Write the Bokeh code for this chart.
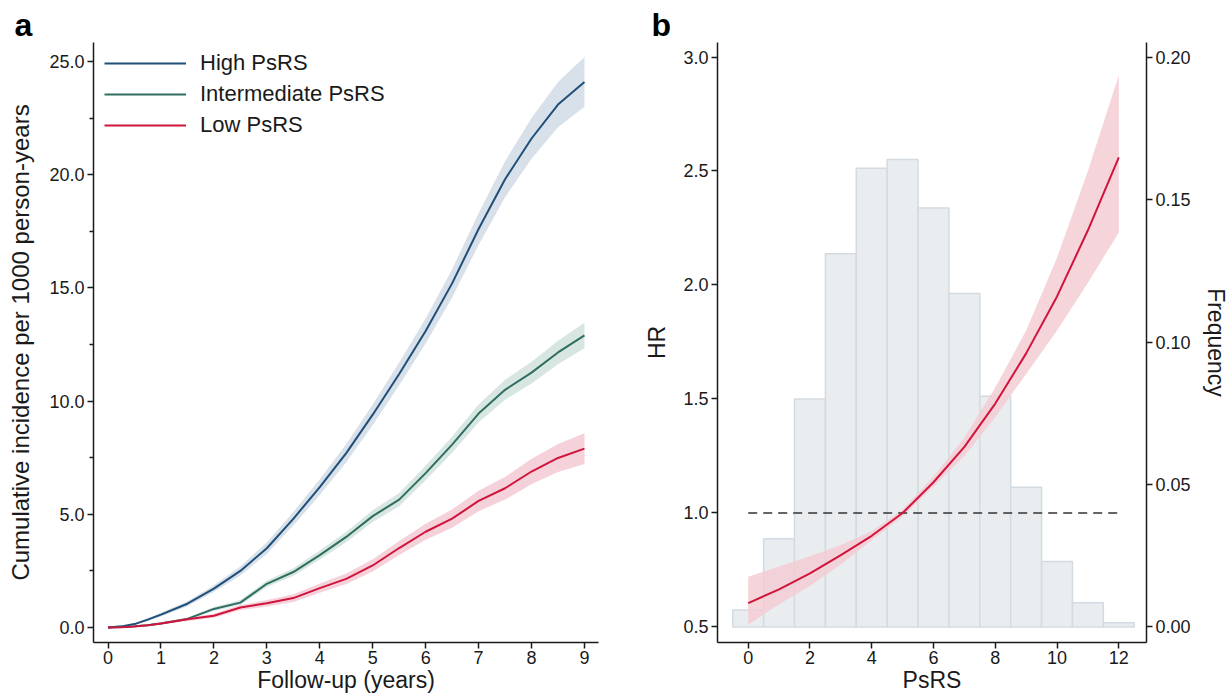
from bokeh.plotting import figure
from bokeh.layouts import row
from bokeh.models import Range1d, LinearAxis, FixedTicker, NumeralTickFormatter
from bokeh.embed import file_html
from bokeh.resources import INLINE

FONT = "Liberation Sans"

# ---------------- Panel a data ----------------
years = [0, 0.25, 0.5, 0.75, 1, 1.5, 2, 2.5, 3, 3.5, 4, 4.5, 5, 5.5, 6, 6.5, 7, 7.5, 8, 8.5, 9]
high = [0, 0.05, 0.15, 0.35, 0.57, 1.05, 1.72, 2.5, 3.5, 4.8, 6.2, 7.7, 9.4, 11.2, 13.1, 15.2, 17.6, 19.8, 21.6, 23.1, 24.1]
high_lo = [0, 0.03, 0.11, 0.29, 0.49, 0.94, 1.57, 2.3, 3.25, 4.5, 5.85, 7.3, 8.95, 10.7, 12.55, 14.58, 16.9, 19.0, 20.7, 22.1, 23.0]
high_hi = [0, 0.07, 0.19, 0.41, 0.65, 1.16, 1.87, 2.7, 3.75, 5.1, 6.55, 8.1, 9.85, 11.7, 13.65, 15.82, 18.3, 20.6, 22.5, 24.1, 25.2]
inter = [0, 0.02, 0.05, 0.1, 0.18, 0.38, 0.82, 1.1, 1.93, 2.45, 3.2, 4.0, 4.92, 5.65, 6.82, 8.08, 9.45, 10.5, 11.26, 12.15, 12.9]
inter_lo = [0, 0.01, 0.03, 0.07, 0.14, 0.32, 0.73, 0.99, 1.79, 2.28, 3.0, 3.77, 4.66, 5.36, 6.5, 7.72, 9.05, 10.06, 10.78, 11.63, 12.34]
inter_hi = [0, 0.03, 0.07, 0.13, 0.22, 0.44, 0.91, 1.21, 2.07, 2.62, 3.4, 4.23, 5.18, 5.94, 7.14, 8.44, 9.85, 10.94, 11.74, 12.67, 13.46]
low = [0, 0.01, 0.04, 0.1, 0.18, 0.36, 0.52, 0.88, 1.07, 1.3, 1.74, 2.15, 2.74, 3.51, 4.23, 4.81, 5.59, 6.15, 6.89, 7.49, 7.9]
low_lo = [0, 0.0, 0.02, 0.07, 0.13, 0.29, 0.43, 0.77, 0.93, 1.13, 1.54, 1.92, 2.47, 3.2, 3.88, 4.41, 5.14, 5.65, 6.33, 6.87, 7.22]
low_hi = [0, 0.02, 0.06, 0.13, 0.23, 0.43, 0.61, 0.99, 1.21, 1.47, 1.94, 2.38, 3.01, 3.82, 4.58, 5.21, 6.04, 6.65, 7.45, 8.11, 8.58]
series_names = ["High PsRS", "Intermediate PsRS", "Low PsRS"]
a_xticks = [0, 1, 2, 3, 4, 5, 6, 7, 8, 9]
a_yticks = [0, 5, 10, 15, 20, 25]
a_yminor = [2.5, 7.5, 12.5, 17.5, 22.5]

# ---------------- Panel b data ----------------
psrs_bins = [0, 1, 2, 3, 4, 5, 6, 7, 8, 9, 10, 11, 12]
psrs_freq = [0.006, 0.031, 0.080, 0.131, 0.161, 0.164, 0.147, 0.117, 0.081, 0.049, 0.023, 0.0085, 0.0015]
psrs_x = [0, 1, 2, 3, 4, 5, 6, 7, 8, 9, 10, 11, 12]
hr = [0.605, 0.665, 0.735, 0.815, 0.90, 1.0, 1.135, 1.29, 1.48, 1.70, 1.95, 2.24, 2.56]
hr_lo = [0.51, 0.60, 0.68, 0.775, 0.88, 0.985, 1.115, 1.25, 1.42, 1.61, 1.80, 2.01, 2.23]
hr_hi = [0.72, 0.765, 0.81, 0.86, 0.92, 1.015, 1.16, 1.33, 1.55, 1.80, 2.12, 2.50, 2.92]
ref_x = [0, 12]
ref_y = [1.0, 1.0]
b_xticks = [0, 2, 4, 6, 8, 10, 12]
b_yticks = [0.5, 1.0, 1.5, 2.0, 2.5, 3.0]
b_fticks = [0.0, 0.05, 0.10, 0.15, 0.20]

BLUE, GREEN, RED = "#1f4e79", "#2e6e62", "#d0143c"
BLUE_BAND, GREEN_BAND, RED_BAND = "#d6dee8", "#d6e5df", "#f4d0d8"
AX = "#1a1a1a"


def style_axis(ax, size="18px"):
    ax.axis_line_color = AX
    ax.axis_line_width = 1.5
    ax.major_tick_line_color = AX
    ax.major_tick_line_width = 1.5
    ax.major_tick_out = 6
    ax.major_tick_in = 0
    ax.minor_tick_line_color = None
    ax.major_label_text_font = FONT
    ax.major_label_text_font_size = size
    ax.major_label_text_color = AX
    ax.major_label_standoff = 3
    ax.axis_label_text_font = FONT
    ax.axis_label_text_font_size = "23px"
    ax.axis_label_text_font_style = "normal"
    ax.axis_label_text_color = AX


def style_title(p, txt, offset):
    p.title.text = txt
    p.title.align = "left"
    p.title.offset = offset
    p.title.standoff = 0
    p.title.text_font = FONT
    p.title.text_font_size = "32px"
    p.title.text_font_style = "bold"
    p.title.text_color = "#000000"


# ---------------- Panel a ----------------
p1 = figure(width=640, height=697, output_backend="svg", toolbar_location=None,
            x_range=Range1d(-0.2739, 9.265), y_range=Range1d(-0.6625, 25.84),
            min_border_left=93, min_border_right=42, min_border_top=42, min_border_bottom=55)
p1.xgrid.visible = False
p1.ygrid.visible = False
p1.outline_line_color = None

p1.varea(x=years, y1=high_lo, y2=high_hi, fill_color=BLUE_BAND, fill_alpha=0.95)
p1.varea(x=years, y1=inter_lo, y2=inter_hi, fill_color=GREEN_BAND, fill_alpha=0.95)
p1.varea(x=years, y1=low_lo, y2=low_hi, fill_color=RED_BAND, fill_alpha=0.95)
p1.line(years, high, line_color=BLUE, line_width=2, legend_label=series_names[0])
p1.line(years, inter, line_color=GREEN, line_width=2, legend_label=series_names[1])
p1.line(years, low, line_color=RED, line_width=2, legend_label=series_names[2])

style_axis(p1.xaxis[0])
style_axis(p1.yaxis[0])
p1.xaxis[0].ticker = FixedTicker(ticks=a_xticks)
p1.xaxis[0].major_label_standoff = 2
p1.xaxis[0].axis_label = "Follow-up (years)"
p1.xaxis[0].axis_label_standoff = 0
p1.yaxis[0].ticker = FixedTicker(ticks=a_yticks, minor_ticks=a_yminor)
p1.yaxis[0].minor_tick_line_color = AX
p1.yaxis[0].minor_tick_line_width = 1.5
p1.yaxis[0].minor_tick_out = 4
p1.yaxis[0].minor_tick_in = 0
p1.yaxis[0].formatter = NumeralTickFormatter(format="0.0")
p1.yaxis[0].axis_label = "Cumulative incidence per 1000 person-years"
p1.yaxis[0].axis_label_text_font_size = "24px"
p1.yaxis[0].axis_label_standoff = 12

lg = p1.legend[0]
lg.location = (11, 504)
lg.border_line_color = None
lg.background_fill_alpha = 0
lg.padding = 8
lg.margin = 0
lg.spacing = 5
lg.glyph_width = 82
lg.glyph_height = 24
lg.label_height = 24
lg.label_standoff = 14
lg.label_text_font = FONT
lg.label_text_font_size = "22px"
lg.label_text_color = AX

style_title(p1, "a", -79)

# ---------------- Panel b ----------------
p2 = figure(width=592, height=697, output_backend="svg", toolbar_location=None,
            x_range=Range1d(-0.994, 12.897), y_range=Range1d(0.432, 3.0636),
            min_border_left=77, min_border_right=86, min_border_top=42, min_border_bottom=55)
p2.xgrid.visible = False
p2.ygrid.visible = False
p2.outline_line_color = None
p2.extra_y_ranges = {"freq": Range1d(-0.00544, 0.20509)}

p2.vbar(x=psrs_bins, width=1, top=psrs_freq, bottom=0, y_range_name="freq",
        fill_color="#e9edf0", line_color="#d3dbe1", line_width=1.5)
p2.varea(x=psrs_x, y1=hr_lo, y2=hr_hi, fill_color="#f3ccd4", fill_alpha=0.85)
p2.line(ref_x, ref_y, line_color="#333333", line_width=1.5, line_dash="9 6")
p2.line(psrs_x, hr, line_color=RED, line_width=2)

style_axis(p2.xaxis[0])
style_axis(p2.yaxis[0])
p2.xaxis[0].ticker = FixedTicker(ticks=b_xticks)
p2.xaxis[0].major_label_standoff = 2
p2.xaxis[0].axis_label = "PsRS"
p2.xaxis[0].axis_label_standoff = 0
p2.yaxis[0].ticker = FixedTicker(ticks=b_yticks)
p2.yaxis[0].formatter = NumeralTickFormatter(format="0.0")
p2.yaxis[0].axis_label = "HR"
p2.yaxis[0].axis_label_standoff = 10

fax = LinearAxis(y_range_name="freq")
style_axis(fax)
fax.ticker = FixedTicker(ticks=b_fticks)
fax.formatter = NumeralTickFormatter(format="0.00")
fax.axis_label = "Frequency"
fax.axis_label_standoff = 9
p2.add_layout(fax, "right")

style_title(p2, "b", -66)

layout = row(p1, p2)
open("out.html", "w").write(file_html(layout, INLINE))
